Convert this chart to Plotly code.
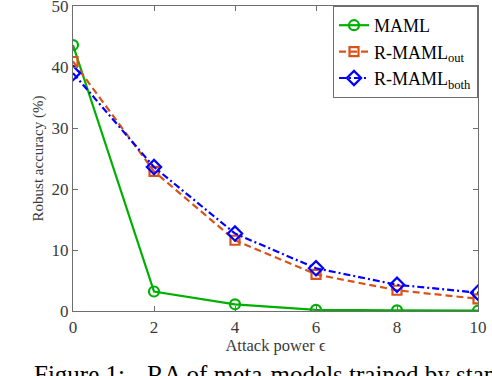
import plotly.graph_objects as go

colors = {
    'green': '#00b000',
    'orange': '#d95319',
    'blue': '#0000ff',
    'axis': '#6e6e6e',
    'text': '#3a3a3a',
}

eps = [0, 2, 4, 6, 8, 10]
maml = [43.6, 3.2, 1.1, 0.2, 0.1, 0.05]
rmaml_out = [40.9, 22.9, 11.6, 6.0, 3.4, 2.0]
rmaml_both = [39.0, 23.6, 12.7, 7.0, 4.3, 3.0]

font = 'Liberation Serif'

fig = go.Figure()
fig.add_trace(go.Scatter(
    x=eps, y=maml, name='MAML', mode='lines+markers',
    line=dict(color=colors['green'], width=2.2),
    marker=dict(symbol='circle-open', size=10, color=colors['green'], line=dict(width=2.2))
))
fig.add_trace(go.Scatter(
    x=eps, y=rmaml_out, name='R-MAML<sub>out</sub>', mode='lines+markers',
    line=dict(color=colors['orange'], width=2.2, dash='7px,4px'),
    marker=dict(symbol='square-open', size=9, color=colors['orange'], line=dict(width=2.2))
))
fig.add_trace(go.Scatter(
    x=eps, y=rmaml_both, name='R-MAML<sub>both</sub>', mode='lines+markers',
    line=dict(color=colors['blue'], width=2.2, dash='7px,3px,2px,3px'),
    marker=dict(symbol='diamond-open', size=11, color=colors['blue'], line=dict(width=2.2))
))

axis_common = dict(
    showgrid=False, zeroline=False, showline=True, mirror='ticks',
    linecolor=colors['axis'], linewidth=1.2,
    ticks='inside', ticklen=5, tickcolor=colors['axis'],
    ticklabeloverflow='allow', automargin=False,
    tickfont=dict(family=font, size=17, color=colors['text']),
)

fig.update_layout(
    width=492, height=376,
    paper_bgcolor='white', plot_bgcolor='white',
    margin=dict(l=73, r=14, t=6, b=65),
    font=dict(family=font, color=colors['text']),
    xaxis=dict(range=[0, 10], tickvals=eps,
               title=dict(text='Attack power ϵ', font=dict(family=font, size=16.5), standoff=2),
               **axis_common),
    yaxis=dict(range=[0, 50], tickvals=[0, 10, 20, 30, 40, 50],
               title=dict(text='Robust accuracy (%)', font=dict(family=font, size=15), standoff=4),
               **axis_common),
    legend=dict(x=1, y=1, xanchor='right', yanchor='top',
                bgcolor='white', bordercolor=colors['axis'], borderwidth=1,
                font=dict(family=font, size=18, color='black'),
                tracegroupgap=0, itemwidth=30),
    showlegend=True,
)

# caption of the paper figure, cut by the crop
fig.add_annotation(
    text='Figure 1:',
    xref='paper', yref='paper', x=-0.101, y=-0.157, xanchor='left', yanchor='top',
    showarrow=False, font=dict(family=font, size=25, color='black')
)
fig.add_annotation(
    text='RA of meta-models trained by standard',
    xref='paper', yref='paper', x=0.178, y=-0.157, xanchor='left', yanchor='top',
    showarrow=False, font=dict(family=font, size=25, color='black')
)

fig.write_html('out.html', config={'displayModeBar': False},
               post_script="document.body.style.margin='0';")
